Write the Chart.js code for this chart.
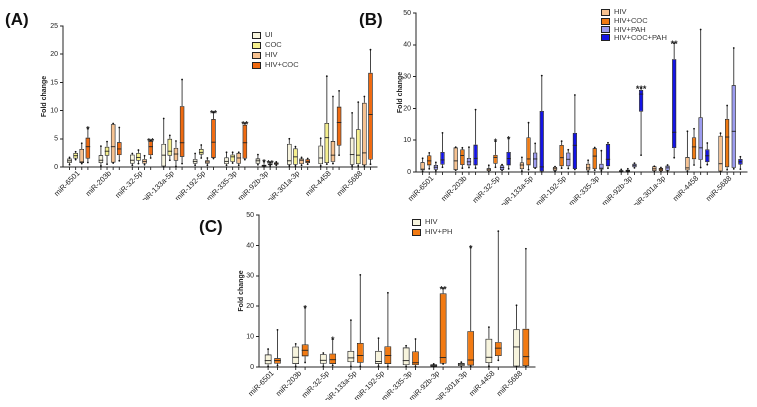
<!DOCTYPE html>
<html><head><meta charset="utf-8">
<script src="https://cdn.jsdelivr.net/npm/chart.js@4"></script>
<style>
body{margin:0;width:757px;height:407px;background:#fff;position:relative;overflow:hidden;font-family:"Liberation Sans",Arial,sans-serif;}
canvas{position:absolute;}
.lbl{position:absolute;font-weight:bold;font-size:17px;color:#111;line-height:1;}
.leg{position:absolute;font-size:7.5px;color:#333;line-height:1;white-space:nowrap;}
.leg span.b{display:inline-block;width:7px;height:5px;border:0.8px solid #222;margin-right:4px;vertical-align:middle;}
</style>
</head><body>
<canvas id="cA" width="380" height="215" style="left:0;top:0"></canvas>
<canvas id="cB" width="377" height="215" style="left:380px;top:0"></canvas>
<canvas id="cC" width="340" height="207" style="left:200px;top:200px"></canvas>
<div class="lbl" style="left:5px;top:11px">(A)</div>
<div class="lbl" style="left:359px;top:11px">(B)</div>
<div class="lbl" style="left:199px;top:218px">(C)</div>
<div id="legA"></div><div id="legB"></div><div id="legC"></div>
<script>
// ---- data ----
const categories = ['miR-6501','miR-203b','miR-32-5p','miR-133a-5p','miR-192-5p','miR-335-3p','miR-92b-3p','miR-301a-3p','miR-4458','miR-5688'];
// each entry: [min, q1, median, q3, max]
const A_UI = [[0.4,0.7,1.1,1.5,1.7],[0.2,0.7,1.2,2.1,3.7],[0.3,0.6,1.2,2.2,2.4],[0.0,0.1,2.1,4.1,8.6],[0.3,0.6,1.0,1.4,2.4],[0.3,0.5,1.0,1.7,2.6],[0.4,0.6,1.1,1.5,2.2],[0.2,0.4,1.1,4.1,5.0],[0.2,0.5,1.6,3.8,5.1],[0.2,0.4,2.2,5.2,9.6]];
const A_COC = [[1.3,1.5,2.0,2.5,2.7],[0.5,2.0,2.8,3.6,4.5],[0.6,1.1,1.7,2.5,3.0],[1.2,2.0,2.8,5.0,5.6],[1.6,2.2,2.6,3.2,3.9],[0.7,0.9,1.8,2.2,2.6],[0.0,0.1,0.2,0.4,1.0],[0.2,0.4,1.8,3.3,3.6],[0.5,0.7,5.2,7.8,16.1],[0.2,0.5,2.1,6.7,11.5]];
const A_HIV = [[0.6,0.7,0.9,3.2,4.2],[0.7,0.8,3.6,7.6,7.7],[0.4,0.6,1.0,1.4,2.0],[0.1,1.1,2.3,3.4,4.6],[0.3,0.6,0.9,1.2,1.6],[0.3,0.6,1.6,2.5,2.6],[0.2,0.3,0.5,0.6,0.8],[0.3,0.5,1.2,1.5,1.7],[0.6,0.9,2.1,4.6,12.5],[0.2,0.3,2.5,11.4,12.5]];
const A_HIVCOC = [[0.8,1.5,3.6,5.2,6.8],[1.1,2.1,3.2,4.4,7.0],[1.6,2.1,3.6,4.6,4.7],[0.6,1.8,4.3,10.8,15.5],[1.5,1.6,4.4,8.5,9.7],[1.3,1.5,4.3,7.5,7.7],[0.3,0.4,0.6,0.8,0.9],[0.5,0.7,1.0,1.4,1.5],[2.1,3.8,7.9,10.7,13.5],[0.5,1.3,9.3,16.7,20.8]];
const A_STARS_COC = ['','','','','','','*','','',''];
const A_STARS_HIV = ['','','','','','','**','','',''];
const A_STARS_HIVCOC = ['*','','**','','**','**','','','',''];

const B_HIV = [[0.2,0.5,0.9,3.1,4.3],[0.6,0.6,3.5,7.7,7.8],[0.1,0.3,0.9,1.2,2.1],[0.3,0.9,2.2,3.0,4.6],[0.2,0.4,1.0,1.6,1.7],[0.2,0.5,1.3,2.6,3.7],[0.0,0.1,0.3,0.6,0.8],[0.1,0.3,1.0,1.8,1.8],[0.2,0.5,1.3,4.7,12.8],[0.1,0.2,2.6,11.4,12.2]];
const B_HIVCOC = [[1.0,2.1,3.5,5.2,6.0],[1.2,2.2,5.2,7.1,7.6],[1.5,2.6,4.6,5.4,9.7],[0.7,2.1,4.1,10.9,15.5],[1.2,1.8,4.5,8.5,9.7],[0.6,0.9,5.0,7.5,7.7],[0.0,0.1,0.4,0.7,1.0],[0.2,0.3,0.9,1.3,1.4],[2.2,4.0,7.9,10.9,13.6],[0.7,1.5,11.0,16.7,20.9]];
const B_HIVPAH = [[0.4,0.7,1.5,2.2,3.0],[1.4,2.1,3.2,4.4,7.8],[0.5,0.6,1.4,2.1,2.3],[1.2,1.3,4.1,6.1,9.0],[1.1,1.8,4.0,6.1,7.0],[0.4,0.8,1.2,2.6,6.7],[1.3,1.5,2.1,2.6,2.8],[0.3,0.4,1.3,2.0,2.2],[1.4,3.8,7.6,17.2,44.8],[1.0,1.3,12.8,27.3,39.0]];
const B_HIVCOCPAH = [[1.5,2.3,3.8,6.3,12.3],[1.2,2.1,4.3,8.6,19.6],[1.0,2.1,4.2,6.3,10.6],[0.0,0.2,1.6,19.2,30.3],[0.8,0.9,8.4,12.3,24.2],[1.2,1.8,4.0,8.8,9.2],[5.3,19.0,24.5,25.8,26.4],[4.5,7.5,12.5,35.5,40.5],[2.3,3.1,5.1,7.1,9.1],[0.9,2.3,3.2,4.1,4.8]];
const B_STARS_HIVCOC = ['','','*','','','','','','',''];
const B_STARS_HIVCOCPAH = ['','','*','','','','***','**','',''];

const C_HIV = [[0.2,0.9,2.1,4.1,5.9],[0.2,1.0,3.2,6.7,7.6],[0.2,1.1,2.2,4.2,4.6],[0.2,1.6,3.0,5.3,15.4],[0.3,1.0,1.8,5.3,9.5],[0.2,0.6,2.1,6.4,7.0],[0.0,0.1,0.5,0.9,1.0],[0.1,0.3,0.9,1.3,1.6],[0.3,1.3,3.2,9.3,13.1],[0.1,0.2,6.6,12.4,20.3]];
const C_HIVPH = [[0.5,1.1,2.1,2.9,12.2],[1.5,3.5,5.5,7.4,19.5],[0.5,1.0,2.4,4.4,9.2],[0.2,1.4,3.8,7.9,30.3],[0.2,1.0,3.8,6.8,24.4],[0.2,0.6,1.4,5.1,9.2],[1.0,1.1,3.1,24.2,25.8],[0.2,0.5,2.3,11.8,39.3],[2.2,3.6,6.2,8.2,44.7],[0.1,0.3,3.4,12.6,38.9]];
const C_STARS_HIVPH = ['','*','*','','','','**','*','',''];

const A_TICKS = {max:25, step:5};
const BC_TICKS = {max:50, step:10};

// ---- drawing ----
const boxPlugin = {
  id:'boxes',
  afterDatasetsDraw(chart){
    const ctx = chart.ctx, ys = chart.scales.y, area = chart.chartArea;
    chart.data.datasets.forEach((ds,i)=>{
      const meta = chart.getDatasetMeta(i);
      meta.data.forEach((el,j)=>{
        const s = ds.stats[j]; const x = el.x, w = el.width;
        const p = v => ys.getPixelForValue(v);
        ctx.save();
        ctx.strokeStyle = '#333'; ctx.lineWidth = 0.9;
        ctx.beginPath();
        ctx.moveTo(x,p(s[3])); ctx.lineTo(x,p(s[4]));
        ctx.moveTo(x,p(s[1])); ctx.lineTo(x,p(s[0]));
        ctx.stroke();
        ctx.strokeStyle = '#222';
        ctx.beginPath(); ctx.moveTo(x-w/2,p(s[2])); ctx.lineTo(x+w/2,p(s[2])); ctx.stroke();
        ctx.fillStyle = '#111';
        [s[0],s[4]].forEach(v=>{ctx.beginPath(); ctx.arc(x,p(v),0.9,0,Math.PI*2); ctx.fill();});
        ctx.strokeStyle = '#222';
        ctx.beginPath(); ctx.moveTo(x,area.bottom); ctx.lineTo(x,area.bottom+3); ctx.stroke();
        if(ds.stars && ds.stars[j]){
          ctx.fillStyle='#222'; ctx.font='bold 9px "Liberation Sans", Arial'; ctx.textAlign='center'; ctx.textBaseline='alphabetic';
          ctx.fillText(ds.stars[j], x, p(s[4])+4);
        }
        ctx.restore();
      });
    });
  }
};

function makeChart(id, series, ticks, pad, yWidth, catPct, barPct){
  return new Chart(document.getElementById(id), {
    type:'bar',
    data:{
      labels: categories,
      datasets: series.map(s=>({
        label:s.label,
        data:s.stats.map(d=>[d[1],d[3]]),
        stats:s.stats, stars:s.stars,
        backgroundColor:s.color, borderColor:'#222', borderWidth:0.8, borderSkipped:false,
        categoryPercentage:catPct, barPercentage:barPct
      }))
    },
    options:{
      responsive:false, animation:false, devicePixelRatio:2,
      layout:{padding:pad},
      plugins:{legend:{display:false}, tooltip:{enabled:false}},
      scales:{
        x:{
          offset:true,
          grid:{display:false, drawTicks:false, tickLength:0},
          border:{color:'#222', width:1},
          ticks:{font:{size:7.5, family:'"Liberation Sans", Arial'}, color:'#222', minRotation:45, maxRotation:45, autoSkip:false, padding:2},
          afterFit(s){ s.height = 33; }
        },
        y:{
          min:0, max:ticks.max,
          grid:{drawOnChartArea:false, tickLength:3, color:'#222'},
          border:{color:'#222', width:1},
          ticks:{stepSize:ticks.step, font:{size:7, family:'"Liberation Sans", Arial'}, color:'#222', padding:2},
          title:{display:true, text:'Fold change', font:{size:7, weight:'bold', family:'"Liberation Sans", Arial'}, color:'#222', padding:{top:0,bottom:2}},
          afterFit(s){ s.width = yWidth; }
        }
      }
    },
    plugins:[boxPlugin]
  });
}

const colA = ['#f7f4dd','#f6f08e','#f7c290','#f06a10'];
const colB = ['#f7c290','#f07a12','#9c9cf0','#1414e6'];
const colC = ['#f7f4dd','#f27a12'];

makeChart('cA', [
  {label:'UI', stats:A_UI, color:colA[0]},
  {label:'COC', stats:A_COC, color:colA[1], stars:A_STARS_COC},
  {label:'HIV', stats:A_HIV, color:colA[2], stars:A_STARS_HIV},
  {label:'HIV+COC', stats:A_HIVCOC, color:colA[3], stars:A_STARS_HIVCOC}
], A_TICKS, {left:40, top:26, right:3, bottom:15}, 23, 0.78, 0.75);

makeChart('cB', [
  {label:'HIV', stats:B_HIV, color:colB[0]},
  {label:'HIV+COC', stats:B_HIVCOC, color:colB[1], stars:B_STARS_HIVCOC},
  {label:'HIV+PAH', stats:B_HIVPAH, color:colB[2]},
  {label:'HIV+COC+PAH', stats:B_HIVCOCPAH, color:colB[3], stars:B_STARS_HIVCOCPAH}
], BC_TICKS, {left:16, top:13, right:10, bottom:10}, 20, 0.8, 0.65);

makeChart('cC', [
  {label:'HIV', stats:C_HIV, color:colC[0]},
  {label:'HIV+PH', stats:C_HIVPH, color:colC[1], stars:C_STARS_HIVPH}
], BC_TICKS, {left:37, top:15, right:5, bottom:7}, 22, 0.68, 0.72);

function legend(id, labels, colors, x, ys){
  const box = document.getElementById(id);
  labels.forEach((l,i)=>{
    const d = document.createElement('div');
    d.className='leg'; d.style.left=x+'px'; d.style.top=ys[i]+'px';
    d.innerHTML = '<span class="b" style="background:'+colors[i]+'"></span>'+l;
    box.appendChild(d);
  });
}
legend('legA', ['UI','COC','HIV','HIV+COC'], colA, 252, [31,41,51,61]);
legend('legB', ['HIV','HIV+COC','HIV+PAH','HIV+COC+PAH'], colB, 601, [8,17,25.5,33.5]);
legend('legC', ['HIV','HIV+PH'], colC, 412, [218,228]);
</script>
</body></html>
